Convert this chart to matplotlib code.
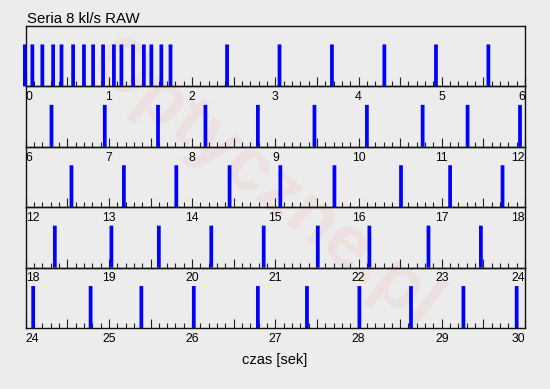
import matplotlib
matplotlib.use("Agg")
import matplotlib.pyplot as plt
from matplotlib.ticker import MultipleLocator
import numpy as np

plt.rcParams['font.family'] = ['Liberation Sans', 'DejaVu Sans']

title = "Seria 8 kl/s RAW"
xlabel = "czas [sek]"
watermark = "Optyczne.pl"

# shot times in seconds
shots = [-0.01, 0.08, 0.20, 0.33, 0.43, 0.57, 0.70, 0.81, 0.93, 1.06, 1.15,
         1.29, 1.42, 1.51, 1.63, 1.74, 2.42, 3.05, 3.68, 4.31, 4.93, 5.56,
         6.31, 6.95, 7.59, 8.16, 8.79, 9.47, 10.10, 10.77, 11.31, 11.94,
         12.55, 13.18, 13.81, 14.45, 15.06, 15.71, 16.51, 17.10, 17.73,
         18.35, 19.03, 19.60, 20.23, 20.86, 21.51, 22.13, 22.84, 23.47,
         24.09, 24.78, 25.39, 26.02, 26.79, 27.38, 28.01, 28.63, 29.26, 29.90]
strip_starts = [0, 6, 12, 18, 24]
strip_len = 6

bg = '#ececec'
fig = plt.figure(figsize=(5.5, 3.89), dpi=100, facecolor=bg)

W, H = 550, 389
left, right, top, bottom = 25.7, 525, 26, 328
sh = (bottom - top) / len(strip_starts)

fig.text(265 / W, 1 - 185 / H, watermark, rotation=-38, ha='center', va='center',
         fontsize=54, fontweight='bold', color='red', alpha=0.05, zorder=-1)

shots = np.array(shots)
for i, s0 in enumerate(strip_starts):
    y0 = top + i * sh
    ax = fig.add_axes([left / W, 1 - (y0 + sh) / H, (right - left) / W, sh / H])
    ax.patch.set_alpha(0)
    sel = shots[(shots >= s0 - 0.05) & (shots < s0 + strip_len)]
    bars = ax.bar(sel, np.ones_like(sel), width=0.045, color='#0000ff', linewidth=0,
                  clip_on=False, zorder=3)
    for b in bars:
        b.set_snap(False)
    ax.set_xlim(s0, s0 + strip_len)
    ax.set_ylim(0, 1.44)
    ax.set_yticks([])
    majors = np.arange(s0, s0 + strip_len + 0.01, 0.5)
    labels = [str(int(v)) if abs(v - round(v)) < 1e-6 else '' for v in majors]
    ax.set_xticks(majors, labels)
    ax.xaxis.set_minor_locator(MultipleLocator(0.1))
    ax.tick_params(axis='x', which='major', direction='in', length=6.5, width=0.8,
                   labelsize=8.8, pad=3.5, color='#222222')
    ax.tick_params(axis='x', which='minor', direction='in', length=3.6, width=0.8,
                   color='#222222')
    tl = ax.get_xticklabels()
    tl[0].set_ha('left')
    tl[-1].set_ha('right')
    for sp in ax.spines.values():
        sp.set_linewidth(1.0)
        sp.set_color('#111111')

fig.text(27 / W, 1 - 19 / H, title, ha='left', va='center', fontsize=10.8)
fig.text(275 / W, 1 - 360 / H, xlabel, ha='center', va='center', fontsize=10.5)

fig.savefig('out.png', dpi=100, facecolor=bg)
